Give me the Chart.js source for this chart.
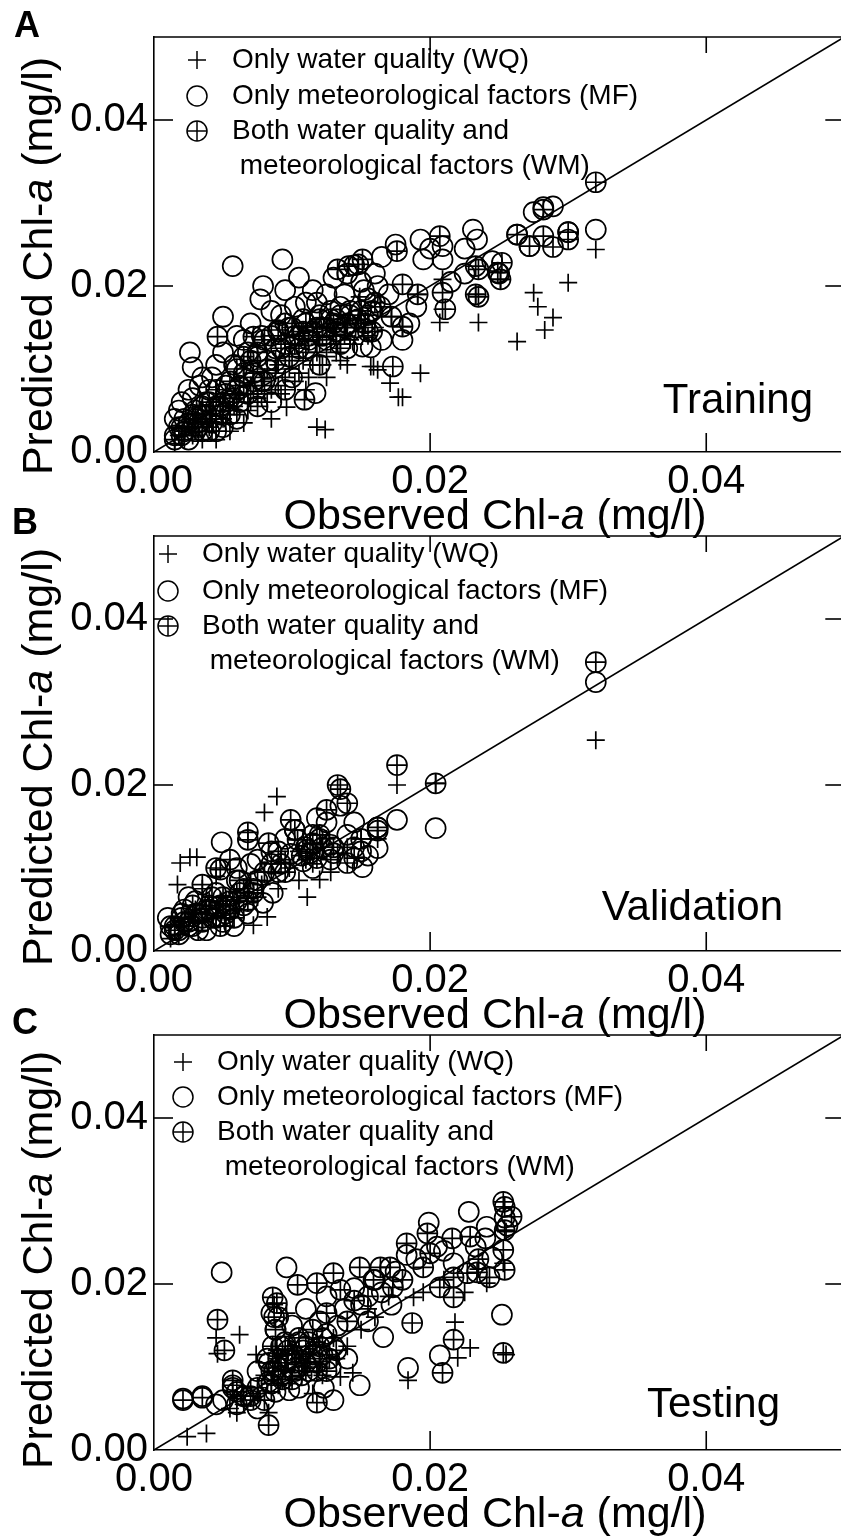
<!DOCTYPE html>
<html>
<head>
<meta charset="utf-8">
<script src="https://cdn.jsdelivr.net/npm/chart.js@4.4.1/dist/chart.umd.min.js"></script>
<style>
html,body{margin:0;padding:0;background:#fff;overflow:hidden;width:841px;height:1540px;}
#wrap{position:relative;width:841px;height:1540px;overflow:hidden;background:#fff;}
canvas{position:absolute;left:0;}
</style>
</head>
<body>
<div id="wrap">
<canvas id="c0" width="856" height="545"></canvas>
<canvas id="c1" width="856" height="545"></canvas>
<canvas id="c2" width="856" height="542"></canvas>
</div>
<script>
// ---------------- data ----------------
const axisMin = 0;
const axisMax = 0.05;
const tickValues = [0, 0.02, 0.04];
const tickLabels = ['0.00', '0.02', '0.04'];
const innerTickValues = [0.02, 0.04];
const diagonal = [0, 0.05];
const seriesNames = ['Only water quality (WQ)', 'Only meteorological factors (MF)', 'Both water quality and meteorological factors (WM)'];
const legendLines = ['Only water quality (WQ)', 'Only meteorological factors (MF)', 'Both water quality and', ' meteorological factors (WM)'];
const xTitleParts = [['Observed Chl-', false], ['a', true], [' (mg/l)', false]];
const yTitleParts = [['Predicted Chl-', false], ['a', true], [' (mg/l)', false]];
const panelLetters = ['A', 'B', 'C'];
const phaseNames = ['Training', 'Validation', 'Testing'];

// [observed, predicted] in mg/l
const trainingWQ = [[0.0020,0.0020],[0.0025,0.0030],[0.0030,0.0025],[0.0030,0.0040],[0.0035,0.0030],[0.0035,0.0015],[0.0040,0.0050],[0.0040,0.0030],[0.0045,0.0040],[0.0045,0.0015],[0.0050,0.0060],[0.0050,0.0040],[0.0055,0.0050],[0.0055,0.0025],[0.0060,0.0060],[0.0060,0.0045],[0.0065,0.0070],[0.0065,0.0035],[0.0070,0.0060],[0.0070,0.0080],[0.0075,0.0065],[0.0080,0.0070],[0.0080,0.0090],[0.0085,0.0075],[0.0085,0.0040],[0.0090,0.0080],[0.0090,0.0105],[0.0095,0.0090],[0.0096,0.0054],[0.0100,0.0110],[0.0105,0.0095],[0.0110,0.0120],[0.0110,0.0075],[0.0115,0.0105],[0.0118,0.0030],[0.0120,0.0130],[0.0124,0.0027],[0.0125,0.0115],[0.0125,0.0090],[0.0130,0.0140],[0.0135,0.0125],[0.0135,0.0110],[0.0140,0.0150],[0.0140,0.0105],[0.0145,0.0130],[0.0148,0.0155],[0.0149,0.0187],[0.0150,0.0160],[0.0155,0.0140],[0.0157,0.0103],[0.0159,0.0103],[0.0160,0.0150],[0.0162,0.0099],[0.0164,0.0175],[0.0171,0.0083],[0.0172,0.0163],[0.0177,0.0066],[0.0180,0.0066],[0.0180,0.0151],[0.0191,0.0190],[0.0193,0.0095],[0.0207,0.0156],[0.0209,0.0172],[0.0209,0.0208],[0.0233,0.0190],[0.0235,0.0156],[0.0251,0.0208],[0.0263,0.0133],[0.0275,0.0192],[0.0278,0.0175],[0.0283,0.0147],[0.0289,0.0162],[0.0300,0.0204],[0.0320,0.0244],
  [0.0015,0.0010],[0.0018,0.0020],[0.0022,0.0015],[0.0028,0.0020],[0.0032,0.0045],[0.0038,0.0040],[0.0042,0.0025],[0.0048,0.0050],[0.0052,0.0035],[0.0058,0.0055],[0.0062,0.0070],[0.0068,0.0050],[0.0072,0.0070],[0.0078,0.0080],[0.0082,0.0060],[0.0088,0.0095],[0.0092,0.0070],[0.0098,0.0100],[0.0102,0.0085],[0.0108,0.0110],[0.0112,0.0090],[0.0118,0.0120],[0.0122,0.0105],[0.0128,0.0130],[0.0132,0.0120],[0.0138,0.0140],[0.0142,0.0135],[0.0152,0.0145]];
const trainingMF = [[0.0015,0.0040],[0.0020,0.0060],[0.0025,0.0075],[0.0020,0.0030],[0.0030,0.0050],[0.0026,0.0120],[0.0028,0.0102],[0.0035,0.0090],[0.0040,0.0075],[0.0045,0.0105],[0.0050,0.0163],[0.0050,0.0120],[0.0057,0.0224],[0.0060,0.0140],[0.0065,0.0135],[0.0070,0.0155],[0.0077,0.0184],[0.0079,0.0200],[0.0093,0.0232],[0.0085,0.0170],[0.0090,0.0145],[0.0095,0.0195],[0.0105,0.0210],[0.0110,0.0180],[0.0115,0.0195],[0.0120,0.0165],[0.0125,0.0190],[0.0130,0.0210],[0.0135,0.0175],[0.0140,0.0215],[0.0145,0.0225],[0.0150,0.0205],[0.0155,0.0185],[0.0160,0.0215],[0.0165,0.0235],[0.0175,0.0250],[0.0193,0.0256],[0.0195,0.0232],[0.0200,0.0245],[0.0209,0.0248],[0.0209,0.0232],[0.0231,0.0268],[0.0234,0.0256],[0.0225,0.0245],[0.0245,0.0230],[0.0250,0.0215],[0.0263,0.0262],[0.0275,0.0289],[0.0282,0.0295],[0.0289,0.0296],[0.0300,0.0265],[0.0320,0.0268],[0.0272,0.0248],[0.0170,0.0190],[0.0155,0.0145],[0.0140,0.0125],[0.0117,0.0071],[0.0110,0.0125],[0.0080,0.0085],[0.0065,0.0095],[0.0060,0.0075],[0.0030,0.0025],[0.0045,0.0055],[0.0055,0.0065],[0.0035,0.0045],[0.0075,0.0115],[0.0102,0.0140],[0.0151,0.0127],[0.0157,0.0126],[0.0165,0.0135],[0.0180,0.0135],[0.0185,0.0155],[0.0190,0.0175],[0.0215,0.0205],[0.0225,0.0215],
  [0.0015,0.0020],[0.0018,0.0050],[0.0022,0.0040],[0.0028,0.0065],[0.0032,0.0035],[0.0033,0.0080],[0.0038,0.0060],[0.0042,0.0090],[0.0048,0.0045],[0.0052,0.0080],[0.0058,0.0105],[0.0062,0.0060],[0.0068,0.0120],[0.0072,0.0085],[0.0078,0.0140],[0.0082,0.0110],[0.0088,0.0125],[0.0092,0.0165],[0.0098,0.0150],[0.0102,0.0175],[0.0108,0.0160],[0.0112,0.0140],[0.0118,0.0180],[0.0122,0.0150],[0.0128,0.0170],[0.0132,0.0160],[0.0138,0.0190],[0.0142,0.0170],[0.0148,0.0160],[0.0152,0.0195],[0.0158,0.0170],[0.0162,0.0200],[0.0040,0.0025],[0.0060,0.0040],[0.0085,0.0060],[0.0100,0.0090],[0.0050,0.0030],[0.0025,0.0015]];
const trainingWM = [[0.0020,0.0020],[0.0025,0.0035],[0.0030,0.0040],[0.0035,0.0055],[0.0035,0.0025],[0.0040,0.0060],[0.0045,0.0075],[0.0050,0.0060],[0.0046,0.0139],[0.0055,0.0085],[0.0055,0.0045],[0.0060,0.0100],[0.0065,0.0090],[0.0065,0.0115],[0.0070,0.0110],[0.0072,0.0139],[0.0075,0.0120],[0.0080,0.0135],[0.0085,0.0140],[0.0090,0.0147],[0.0095,0.0130],[0.0095,0.0155],[0.0100,0.0150],[0.0105,0.0140],[0.0105,0.0125],[0.0109,0.0063],[0.0110,0.0155],[0.0115,0.0145],[0.0120,0.0160],[0.0125,0.0150],[0.0125,0.0135],[0.0130,0.0155],[0.0133,0.0220],[0.0135,0.0165],[0.0140,0.0155],[0.0141,0.0224],[0.0148,0.0226],[0.0151,0.0232],[0.0150,0.0170],[0.0155,0.0165],[0.0160,0.0180],[0.0164,0.0175],[0.0172,0.0163],[0.0173,0.0103],[0.0176,0.0242],[0.0180,0.0202],[0.0180,0.0151],[0.0191,0.0190],[0.0207,0.0260],[0.0209,0.0192],[0.0211,0.0172],[0.0233,0.0224],[0.0235,0.0220],[0.0233,0.0190],[0.0235,0.0187],[0.0249,0.0216],[0.0252,0.0228],[0.0251,0.0208],[0.0263,0.0262],[0.0272,0.0248],[0.0282,0.0292],[0.0282,0.0260],[0.0289,0.0247],[0.0300,0.0265],[0.0300,0.0256],[0.0320,0.0325],
  [0.0015,0.0015],[0.0018,0.0030],[0.0022,0.0025],[0.0028,0.0045],[0.0032,0.0030],[0.0038,0.0045],[0.0042,0.0035],[0.0048,0.0055],[0.0052,0.0070],[0.0058,0.0065],[0.0062,0.0080],[0.0068,0.0070],[0.0072,0.0095],[0.0078,0.0085],[0.0082,0.0100],[0.0088,0.0110],[0.0092,0.0125],[0.0098,0.0115],[0.0102,0.0130],[0.0108,0.0145],[0.0112,0.0135],[0.0118,0.0150],[0.0122,0.0140],[0.0128,0.0160],[0.0132,0.0145],[0.0138,0.0150],[0.0142,0.0165],[0.0146,0.0150],[0.0153,0.0155],[0.0158,0.0145],[0.0045,0.0025],[0.0075,0.0055],[0.0095,0.0075],[0.0120,0.0105],[0.0135,0.0130]];

const validationWQ = [[0.0017,0.0080],[0.0019,0.0106],[0.0026,0.0113],[0.0031,0.0113],[0.0089,0.0186],[0.0080,0.0167],[0.0176,0.0200],[0.0204,0.0202],[0.0320,0.0254],[0.0111,0.0065],[0.0120,0.0086],[0.0072,0.0031],[0.0082,0.0041],[0.0015,0.0030],[0.0020,0.0040],[0.0025,0.0025],[0.0030,0.0050],[0.0035,0.0035],[0.0040,0.0060],[0.0045,0.0040],[0.0050,0.0055],[0.0055,0.0045],[0.0060,0.0070],[0.0065,0.0050],[0.0070,0.0085],[0.0075,0.0065],[0.0085,0.0095],[0.0090,0.0075],[0.0095,0.0110],[0.0105,0.0120],[0.0115,0.0105],[0.0125,0.0135],[0.0133,0.0118],[0.0140,0.0125],[0.0150,0.0135],[0.0162,0.0135],[0.0128,0.0095],[0.0105,0.0085],[0.0045,0.0090],[0.0035,0.0075],
  [0.0012,0.0015],[0.0022,0.0030],[0.0028,0.0045],[0.0038,0.0045],[0.0048,0.0060],[0.0052,0.0030],[0.0058,0.0065],[0.0068,0.0070],[0.0078,0.0080],[0.0098,0.0100],[0.0110,0.0110],[0.0118,0.0140]];
const validationMF = [[0.0320,0.0324],[0.0204,0.0148],[0.0176,0.0158],[0.0049,0.0131],[0.0015,0.0030],[0.0020,0.0045],[0.0025,0.0035],[0.0030,0.0060],[0.0035,0.0040],[0.0040,0.0050],[0.0045,0.0070],[0.0050,0.0035],[0.0055,0.0060],[0.0060,0.0085],[0.0065,0.0055],[0.0070,0.0105],[0.0079,0.0058],[0.0086,0.0070],[0.0090,0.0095],[0.0099,0.0117],[0.0102,0.0146],[0.0110,0.0125],[0.0115,0.0100],[0.0120,0.0135],[0.0125,0.0155],[0.0130,0.0118],[0.0135,0.0175],[0.0145,0.0125],[0.0151,0.0101],[0.0155,0.0115],[0.0162,0.0124],[0.0162,0.0149],[0.0145,0.0155],[0.0118,0.0160],[0.0095,0.0135],[0.0075,0.0110],[0.0025,0.0065],
  [0.0012,0.0020],[0.0018,0.0025],[0.0022,0.0050],[0.0028,0.0030],[0.0032,0.0045],[0.0038,0.0025],[0.0042,0.0040],[0.0048,0.0055],[0.0052,0.0045],[0.0058,0.0030],[0.0062,0.0070],[0.0068,0.0045],[0.0072,0.0075],[0.0010,0.0040],[0.0115,0.0140],[0.0108,0.0108],[0.0128,0.0128],[0.0140,0.0140],[0.0150,0.0120],[0.0085,0.0120],[0.0060,0.0100]];
const validationWM = [[0.0320,0.0348],[0.0176,0.0224],[0.0204,0.0202],[0.0133,0.0200],[0.0135,0.0195],[0.0140,0.0178],[0.0125,0.0170],[0.0048,0.0098],[0.0035,0.0080],[0.0068,0.0143],[0.0068,0.0134],[0.0083,0.0130],[0.0099,0.0158],[0.0102,0.0146],[0.0104,0.0134],[0.0111,0.0122],[0.0115,0.0130],[0.0128,0.0110],[0.0140,0.0106],[0.0162,0.0149],[0.0162,0.0145],[0.0015,0.0025],[0.0020,0.0040],[0.0025,0.0030],[0.0030,0.0045],[0.0035,0.0035],[0.0040,0.0055],[0.0045,0.0040],[0.0050,0.0065],[0.0055,0.0050],[0.0060,0.0060],[0.0065,0.0075],[0.0075,0.0085],[0.0085,0.0105],[0.0090,0.0120],[0.0107,0.0115],[0.0122,0.0125],[0.0118,0.0112],[0.0095,0.0095],
  [0.0012,0.0030],[0.0018,0.0020],[0.0022,0.0035],[0.0028,0.0055],[0.0032,0.0025],[0.0038,0.0050],[0.0042,0.0065],[0.0048,0.0030],[0.0052,0.0055],[0.0058,0.0040],[0.0062,0.0085],[0.0068,0.0060],[0.0072,0.0070],[0.0080,0.0095],[0.0092,0.0105],[0.0113,0.0118],[0.0120,0.0140],[0.0130,0.0125],[0.0145,0.0112],[0.0150,0.0135],[0.0055,0.0110],[0.0045,0.0100]];

const testingWQ = [[0.0024,0.0016],[0.0038,0.0020],[0.0046,0.0116],[0.0062,0.0139],[0.0241,0.0201],[0.0218,0.0154],[0.0229,0.0123],[0.0220,0.0111],[0.0184,0.0084],[0.0188,0.0184],[0.0144,0.0093],[0.0135,0.0088],[0.0255,0.0115],[0.0055,0.0050],[0.0060,0.0062],[0.0065,0.0055],[0.0070,0.0075],[0.0075,0.0068],[0.0080,0.0090],[0.0083,0.0045],[0.0086,0.0105],[0.0089,0.0120],[0.0090,0.0078],[0.0095,0.0095],[0.0100,0.0088],[0.0105,0.0110],[0.0110,0.0095],[0.0115,0.0125],[0.0120,0.0100],[0.0125,0.0115],[0.0130,0.0135],[0.0140,0.0125],[0.0150,0.0145],[0.0160,0.0160],[0.0170,0.0185],[0.0195,0.0190],[0.0210,0.0205],[0.0225,0.0190],[0.0235,0.0218],[0.0253,0.0225],[0.0087,0.0175],[0.0096,0.0165],[0.0045,0.0135],[0.0115,0.0068],[0.0074,0.0115],[0.0255,0.0263],
  [0.0085,0.0070],[0.0092,0.0105],[0.0100,0.0120],[0.0108,0.0100],[0.0112,0.0115],[0.0118,0.0130],[0.0122,0.0090],[0.0132,0.0110],[0.0060,0.0045],[0.0072,0.0060],[0.0098,0.0080],[0.0155,0.0170]];
const testingMF = [[0.0049,0.0214],[0.0096,0.0220],[0.0199,0.0274],[0.0228,0.0287],[0.0241,0.0269],[0.0252,0.0163],[0.0207,0.0114],[0.0184,0.0099],[0.0166,0.0136],[0.0149,0.0078],[0.0130,0.0060],[0.0021,0.0062],[0.0035,0.0065],[0.0045,0.0055],[0.0057,0.0075],[0.0065,0.0065],[0.0075,0.0095],[0.0082,0.0110],[0.0085,0.0165],[0.0088,0.0145],[0.0092,0.0125],[0.0095,0.0105],[0.0100,0.0150],[0.0105,0.0130],[0.0110,0.0170],[0.0115,0.0115],[0.0120,0.0155],[0.0125,0.0185],[0.0130,0.0125],[0.0138,0.0170],[0.0145,0.0195],[0.0155,0.0155],[0.0160,0.0205],[0.0172,0.0175],[0.0183,0.0235],[0.0205,0.0245],[0.0217,0.0225],[0.0233,0.0245],[0.0254,0.0280],[0.0256,0.0270],[0.0245,0.0232],[0.0083,0.0082],[0.0098,0.0072],[0.0112,0.0095],[0.0123,0.0075],
  [0.0085,0.0095],[0.0088,0.0070],[0.0092,0.0090],[0.0095,0.0130],[0.0098,0.0110],[0.0102,0.0095],[0.0105,0.0075],[0.0108,0.0120],[0.0112,0.0130],[0.0118,0.0105],[0.0122,0.0115],[0.0125,0.0140],[0.0128,0.0100],[0.0133,0.0150],[0.0140,0.0110],[0.0060,0.0055],[0.0070,0.0060],[0.0075,0.0050],[0.0050,0.0060],[0.0090,0.0160],[0.0150,0.0175],[0.0165,0.0190],[0.0175,0.0215],[0.0190,0.0230],[0.0210,0.0240],[0.0240,0.0255]];
const testingWM = [[0.0046,0.0157],[0.0051,0.0120],[0.0021,0.0060],[0.0035,0.0063],[0.0083,0.0030],[0.0057,0.0084],[0.0057,0.0078],[0.0086,0.0184],[0.0089,0.0177],[0.0087,0.0160],[0.0088,0.0145],[0.0086,0.0125],[0.0090,0.0110],[0.0087,0.0095],[0.0085,0.0080],[0.0104,0.0199],[0.0118,0.0201],[0.0130,0.0213],[0.0135,0.0193],[0.0149,0.0220],[0.0164,0.0220],[0.0171,0.0220],[0.0159,0.0205],[0.0173,0.0196],[0.0183,0.0249],[0.0198,0.0261],[0.0200,0.0237],[0.0216,0.0255],[0.0229,0.0257],[0.0253,0.0299],[0.0254,0.0293],[0.0259,0.0281],[0.0254,0.0265],[0.0253,0.0241],[0.0254,0.0217],[0.0217,0.0208],[0.0207,0.0196],[0.0217,0.0184],[0.0227,0.0213],[0.0234,0.0214],[0.0243,0.0208],[0.0253,0.0117],[0.0217,0.0133],[0.0209,0.0093],[0.0187,0.0153],[0.0118,0.0057],[0.0100,0.0115],[0.0105,0.0135],[0.0110,0.0105],[0.0115,0.0145],[0.0120,0.0125],[0.0125,0.0095],[0.0095,0.0125],[0.0100,0.0085],[0.0065,0.0065],[0.0075,0.0075],[0.0145,0.0180],[0.0140,0.0155],
  [0.0083,0.0105],[0.0090,0.0100],[0.0093,0.0085],[0.0097,0.0120],[0.0102,0.0105],[0.0107,0.0090],[0.0110,0.0125],[0.0113,0.0110],[0.0118,0.0095],[0.0122,0.0135],[0.0127,0.0110],[0.0132,0.0120],[0.0060,0.0070],[0.0070,0.0065],[0.0080,0.0060],[0.0125,0.0165],[0.0155,0.0185],[0.0180,0.0205],[0.0195,0.0220],[0.0235,0.0230]];

// ---------------- layout / style ----------------
const FONT = '"Liberation Sans", Arial, Helvetica, sans-serif';
const MARK_LW = 1.7;
const panelLayout = [
  {top: 0,   letterX: 14, letterY: 37, markX: 197, textX: 232, rows: [60, 96, 131, 166], phaseRight: 813, phaseBase: 413, yTitleCenter: 266},
  {top: 499, letterX: 12, letterY: 35, markX: 168, textX: 202, rows: [55, 92, 127, 162], phaseRight: 783, phaseBase: 421, yTitleCenter: 258},
  {top: 998, letterX: 12, letterY: 36, markX: 183, textX: 217, rows: [64, 99, 134, 169], phaseRight: 780, phaseBase: 419, yTitleCenter: 262}
];
const panelData = [
  [trainingWQ, trainingMF, trainingWM],
  [validationWQ, validationMF, validationWM],
  [testingWQ, testingMF, testingWM]
];

function toPoints(arr) { return arr.map(p => ({x: p[0], y: p[1]})); }

function drawRich(ctx, parts, size, x, y) {
  const fonts = parts.map(p => (p[1] ? 'italic ' : '') + size + 'px ' + FONT);
  let total = 0;
  const widths = parts.map((p, i) => { ctx.font = fonts[i]; const w = ctx.measureText(p[0]).width; total += w; return w; });
  let cx = x - total / 2;
  ctx.textAlign = 'left';
  parts.forEach((p, i) => { ctx.font = fonts[i]; ctx.fillText(p[0], cx, y); cx += widths[i]; });
}

function line(ctx, x1, y1, x2, y2) { ctx.beginPath(); ctx.moveTo(x1, y1); ctx.lineTo(x2, y2); ctx.stroke(); }

function decorPlugin(i) {
  const L = panelLayout[i];
  return {
    id: 'decor' + i,
    afterDraw(chart) {
      const ctx = chart.ctx, a = chart.chartArea, xs = chart.scales.x, ys = chart.scales.y;
      const TL = 19;
      ctx.save();
      ctx.strokeStyle = '#000'; ctx.fillStyle = '#000'; ctx.lineWidth = 1.6;
      line(ctx, a.left, a.top, a.right, a.top);
      innerTickValues.forEach(v => {
        const px = xs.getPixelForValue(v), py = ys.getPixelForValue(v);
        line(ctx, px, a.bottom, px, a.bottom - TL);
        line(ctx, px, a.top, px, a.top + TL - 3);
        line(ctx, a.left, py, a.left + TL, py);
        line(ctx, a.right, py, a.right - TL, py);
      });
      // axis titles
      ctx.textBaseline = 'alphabetic';
      drawRich(ctx, xTitleParts, 43, 495, 529);
      ctx.save();
      ctx.translate(52, L.yTitleCenter);
      ctx.rotate(-Math.PI / 2);
      drawRich(ctx, yTitleParts, 43, 0, 0);
      ctx.restore();
      // panel letter
      ctx.font = 'bold 36px ' + FONT; ctx.textAlign = 'left';
      ctx.fillText(panelLetters[i], L.letterX, L.letterY);
      // phase name
      ctx.font = '42px ' + FONT; ctx.textAlign = 'right';
      ctx.fillText(phaseNames[i], L.phaseRight, L.phaseBase);
      // legend
      ctx.lineWidth = 1.5;
      const mx = L.markX, r = 10;
      let y = L.rows[0];
      line(ctx, mx - 9, y, mx + 9, y); line(ctx, mx, y - 9, mx, y + 9);
      y = L.rows[1];
      ctx.beginPath(); ctx.arc(mx, y, r, 0, Math.PI * 2); ctx.stroke();
      y = L.rows[2];
      ctx.beginPath(); ctx.arc(mx, y, r, 0, Math.PI * 2); ctx.stroke();
      line(ctx, mx - r, y, mx + r, y); line(ctx, mx, y - r, mx, y + r);
      ctx.font = '28px ' + FONT; ctx.textAlign = 'left'; ctx.textBaseline = 'middle';
      legendLines.forEach((t, k) => ctx.fillText(t, L.textX, L.rows[k]));
      ctx.restore();
    }
  };
}

function makePanel(i) {
  const L = panelLayout[i];
  const canvas = document.getElementById('c' + i);
  canvas.style.top = L.top + 'px';
  const d = panelData[i];
  const tickFont = {family: FONT, size: 40};
  const markerBase = {borderColor: '#000', borderWidth: MARK_LW, backgroundColor: 'rgba(0,0,0,0)'};
  return new Chart(canvas, {
    type: 'scatter',
    data: {
      datasets: [
        {label: '1:1', data: diagonal.map(v => ({x: v, y: v})), showLine: true, borderColor: '#000', borderWidth: 1.6, pointRadius: 0, fill: false},
        Object.assign({label: seriesNames[0], data: toPoints(d[0]), pointStyle: 'cross', pointRadius: 9}, markerBase),
        Object.assign({label: seriesNames[1], data: toPoints(d[1]), pointStyle: 'circle', pointRadius: 10}, markerBase),
        Object.assign({label: seriesNames[2], data: toPoints(d[2]), pointStyle: 'circle', pointRadius: 10}, markerBase),
        Object.assign({label: seriesNames[2] + ' (cross)', data: toPoints(d[2]), pointStyle: 'cross', pointRadius: 10}, markerBase)
      ]
    },
    options: {
      responsive: false,
      animation: false,
      events: [],
      layout: {padding: {top: 37, right: 2, left: 0, bottom: 0}},
      plugins: {legend: {display: false}, tooltip: {enabled: false}},
      scales: {
        x: {
          type: 'linear', position: 'bottom', min: axisMin, max: axisMax,
          afterBuildTicks: s => { s.ticks = tickValues.map(v => ({value: v})); },
          afterFit: s => { s.height = canvas.height - 452; },
          ticks: {callback: (v, idx) => tickLabels[idx], font: tickFont, color: '#000', padding: 6, maxRotation: 0, autoSkip: false},
          grid: {display: true, drawOnChartArea: false, drawTicks: false},
          border: {display: true, color: '#000', width: 1.6}
        },
        y: {
          type: 'linear', position: 'left', min: axisMin, max: axisMax,
          afterBuildTicks: s => { s.ticks = tickValues.map(v => ({value: v})); },
          afterFit: s => { s.width = 154; },
          ticks: {callback: (v, idx) => tickLabels[idx], font: tickFont, color: '#000', padding: 6, autoSkip: false},
          grid: {display: true, drawOnChartArea: false, drawTicks: false},
          border: {display: true, color: '#000', width: 1.6}
        }
      }
    },
    plugins: [decorPlugin(i)]
  });
}

[0, 1, 2].forEach(makePanel);
</script>
</body>
</html>
